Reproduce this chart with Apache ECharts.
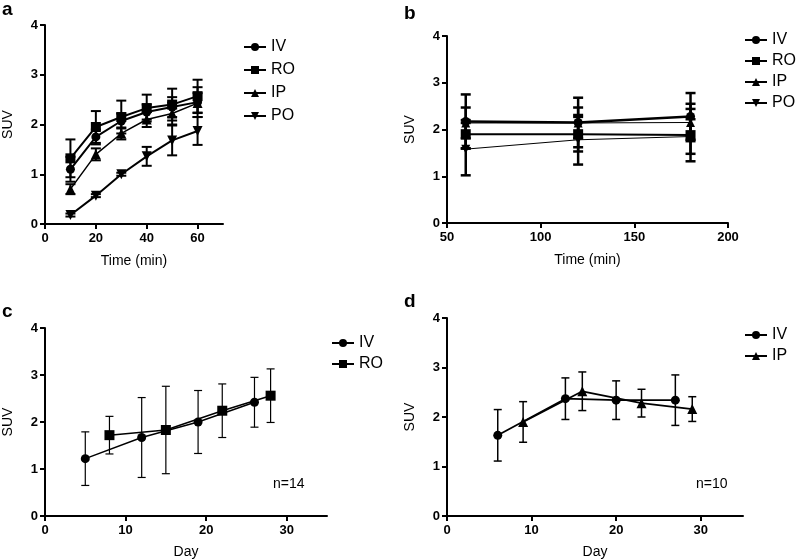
<!DOCTYPE html>
<html>
<head>
<meta charset="utf-8">
<script src="https://cdn.jsdelivr.net/npm/echarts@6/dist/echarts.min.js"></script>
<style>
  body { margin: 0; background: #fff; }
  #chart { width: 798px; height: 560px; }
</style>
</head>
<body>
<div id="chart"></div>
<script>
// panel a - early time points (min)
var aTime = [10, 20, 30, 40, 50, 60]
var aIV = [1.1, 1.75, 2.07, 2.25, 2.35, 2.45]
var aIVErr = [0.25, 0.15, 0.15, 0.15, 0.2, 0.3]
var aRO = [1.32, 1.95, 2.15, 2.33, 2.4, 2.57]
var aROErr = [0.38, 0.32, 0.33, 0.27, 0.32, 0.33]
var aIP = [0.7, 1.4, 1.82, 2.1, 2.22, 2.43]
var aIPErr = [0.1, 0.12, 0.12, 0.15, 0.22, 0.2]
var aPO = [0.18, 0.57, 1.0, 1.36, 1.68, 1.87]
var aPOErr = [0.03, 0.03, 0.03, 0.19, 0.3, 0.28]

// panel b - late time points (min)
var bTime = [60, 120, 180]
var bIV = [2.17, 2.15, 2.28]
var bIVErr = [0.58, 0.53, 0.5]
var bRO = [1.9, 1.9, 1.88]
var bROErr = [0.3, 0.37, 0.56]
var bIP = [2.14, 2.14, 2.15]
var bIPErr = [0.33, 0.33, 0.4]
var bPO = [1.58, 1.78, 1.85]
var bPOErr = [0.56, 0.53, 0.37]

// panel c - days, IV vs RO
var cIVDay = [5, 12, 19, 26]
var cIV = [1.22, 1.67, 2.0, 2.42]
var cIVErr = [0.57, 0.85, 0.67, 0.53]
var cRODay = [8, 15, 22, 28]
var cRO = [1.72, 1.83, 2.24, 2.56]
var cROErr = [0.4, 0.93, 0.57, 0.57]

// panel d - days, IV vs IP
var dIVDay = [6, 14, 20, 27]
var dIV = [1.63, 2.37, 2.34, 2.34]
var dIVErr = [0.52, 0.42, 0.39, 0.51]
var dIPDay = [9, 16, 23, 29]
var dIP = [1.9, 2.52, 2.28, 2.16]
var dIPErr = [0.41, 0.39, 0.28, 0.25]

var yTicks = [0, 1, 2, 3, 4]
var downTri = 'path://M0,0 L10,0 L5,9 Z'
var font = 'Liberation Sans'

function pairs(xs, ys) {
    return xs.map(function (x, i) { return [x, ys[i]] })
}

function lineSeries(idx, name, xs, ys, symbol, size, width) {
    return {
        type: 'line', name: name, xAxisIndex: idx, yAxisIndex: idx,
        data: pairs(xs, ys), symbol: symbol, symbolSize: size,
        lineStyle: { color: '#000', width: width },
        itemStyle: { color: '#000' },
        animation: false, z: 3
    }
}

function errSeries(idx, xs, ys, es, width, cap) {
    return {
        type: 'custom', xAxisIndex: idx, yAxisIndex: idx, silent: true, z: 2, animation: false,
        data: xs.map(function (x, i) { return [x, ys[i] - es[i], ys[i] + es[i]] }),
        renderItem: function (params, api) {
            var lo = api.coord([api.value(0), api.value(1)])
            var hi = api.coord([api.value(0), api.value(2)])
            var st = { stroke: '#000', lineWidth: width }
            return {
                type: 'group',
                children: [
                    { type: 'line', shape: { x1: lo[0], y1: lo[1], x2: hi[0], y2: hi[1] }, style: st },
                    { type: 'line', shape: { x1: lo[0] - cap, y1: lo[1], x2: lo[0] + cap, y2: lo[1] }, style: st },
                    { type: 'line', shape: { x1: hi[0] - cap, y1: hi[1], x2: hi[0] + cap, y2: hi[1] }, style: st }
                ]
            }
        }
    }
}

function xAxis(idx, min, max, ticks, name, gap) {
    return {
        type: 'value', gridIndex: idx, min: min, max: max,
        name: name, nameLocation: 'middle', nameGap: gap,
        nameTextStyle: { fontFamily: font, fontSize: 14, color: '#000' },
        axisLine: { lineStyle: { color: '#000', width: 2 } },
        axisTick: { customValues: ticks, length: 5, lineStyle: { color: '#000', width: 2 } },
        axisLabel: { customValues: ticks, fontFamily: font, fontWeight: 'bold', fontSize: 13, color: '#000', margin: 8 },
        splitLine: { show: false }
    }
}

function yAxis(idx) {
    return {
        type: 'value', gridIndex: idx, min: 0, max: 4, interval: 1,
        name: 'SUV', nameLocation: 'middle', nameGap: 30,
        nameTextStyle: { fontFamily: font, fontSize: 14, color: '#000' },
        axisLine: { show: true, lineStyle: { color: '#000', width: 2 } },
        axisTick: { show: true, customValues: yTicks, length: 5, lineStyle: { color: '#000', width: 2 } },
        axisLabel: { customValues: yTicks, fontFamily: font, fontWeight: 'bold', fontSize: 13, color: '#000', margin: 7 },
        splitLine: { show: false }
    }
}

function legend(left, top, names, gap) {
    return {
        left: left, top: top, orient: 'vertical', data: names,
        itemWidth: 22, itemHeight: 10, itemGap: gap,
        selectedMode: false,
        textStyle: { fontFamily: font, fontSize: 16, color: '#000' }
    }
}

function label(x, y, text, size, weight) {
    return { type: 'text', left: x, top: y, style: { text: text, fontFamily: font, fontSize: size, fontWeight: weight, fill: '#000' } }
}

var chart = echarts.init(document.getElementById('chart'))

var option = {
    backgroundColor: '#fff',
    animation: false,
    grid: [
        { left: 43, top: 25, width: 180, height: 199 },
        { left: 447, top: 36, width: 281, height: 187 },
        { left: 43, top: 328, width: 284, height: 189 },
        { left: 447, top: 318, width: 296, height: 199 }
    ],
    xAxis: [
        xAxis(0, 0, 70, [0, 20, 40, 60], 'Time (min)', 30),
        xAxis(1, 50, 200, [50, 100, 150, 200], 'Time (min)', 30),
        xAxis(2, 0, 35, [0, 10, 20, 30], 'Day', 29),
        xAxis(3, 0, 35, [0, 10, 20, 30], 'Day', 29)
    ],
    yAxis: [yAxis(0), yAxis(1), yAxis(2), yAxis(3)],
    legend: [
        legend(238, 34, ['IV', 'RO', 'IP', 'PO'], 7),
        legend(739, 27, ['IV', 'RO', 'IP', 'PO'], 5),
        legend(326, 330, ['IV', 'RO'], 5),
        legend(739, 322, ['IV', 'IP'], 5)
    ],
    graphic: [
        label(2, 0, 'a', 19, 'bold'),
        label(404, 4, 'b', 19, 'bold'),
        label(2, 302, 'c', 19, 'bold'),
        label(404, 292, 'd', 19, 'bold'),
        label(273, 477, 'n=14', 14, 'normal'),
        label(696, 477, 'n=10', 14, 'normal')
    ],
    series: [
        errSeries(0, aTime, aIV, aIVErr, 2, 5),
        errSeries(0, aTime, aRO, aROErr, 2, 5),
        errSeries(0, aTime, aIP, aIPErr, 2, 5),
        errSeries(0, aTime, aPO, aPOErr, 2, 5),
        lineSeries(0, 'IV', aTime, aIV, 'circle', 9, 2),
        lineSeries(0, 'RO', aTime, aRO, 'rect', 10, 2),
        lineSeries(0, 'IP', aTime, aIP, 'triangle', 10, 1.5),
        lineSeries(0, 'PO', aTime, aPO, downTri, 10, 2),

        errSeries(1, bTime, bIV, bIVErr, 2.5, 5),
        errSeries(1, bTime, bRO, bROErr, 2.5, 5),
        errSeries(1, bTime, bIP, bIPErr, 2.5, 5),
        errSeries(1, bTime, bPO, bPOErr, 2.5, 5),
        lineSeries(1, 'IV', bTime, bIV, 'circle', 9, 2.5),
        lineSeries(1, 'RO', bTime, bRO, 'rect', 10, 2),
        lineSeries(1, 'IP', bTime, bIP, 'triangle', 9, 1),
        lineSeries(1, 'PO', bTime, bPO, downTri, 9, 1),

        errSeries(2, cIVDay, cIV, cIVErr, 1.2, 4),
        errSeries(2, cRODay, cRO, cROErr, 1.2, 4),
        lineSeries(2, 'IV', cIVDay, cIV, 'circle', 9, 1.5),
        lineSeries(2, 'RO', cRODay, cRO, 'rect', 10, 1.5),

        errSeries(3, dIVDay, dIV, dIVErr, 1.5, 4),
        errSeries(3, dIPDay, dIP, dIPErr, 1.5, 4),
        lineSeries(3, 'IV', dIVDay, dIV, 'circle', 9, 1.8),
        lineSeries(3, 'IP', dIPDay, dIP, 'triangle', 10, 1.8)
    ]
}

chart.setOption(option)
</script>
</body>
</html>
